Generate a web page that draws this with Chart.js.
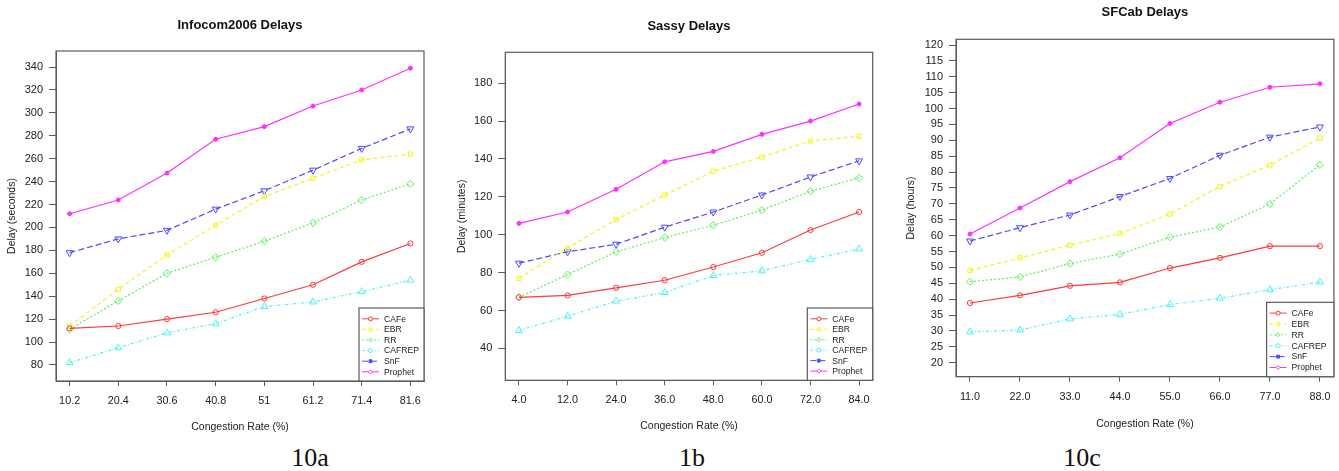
<!DOCTYPE html>
<html>
<head>
<meta charset="utf-8">
<script src="https://cdn.jsdelivr.net/npm/chart.js@4/dist/chart.umd.min.js"></script>
<style>
body{margin:0;background:#fff;width:1339px;height:471px;position:relative;overflow:hidden}
canvas{position:absolute;top:0}
.cap{position:absolute;top:445px;width:100px;text-align:center;font-family:"Liberation Serif","Times New Roman",serif;font-size:26px;line-height:26px;color:#111}
</style>
</head>
<body>
<canvas id="c1" width="440" height="440" style="left:0px"></canvas>
<canvas id="c2" width="440" height="440" style="left:450px"></canvas>
<canvas id="c3" width="439" height="440" style="left:900px"></canvas>
<div class="cap" style="left:260px">10a</div>
<div class="cap" style="left:642px">1b</div>
<div class="cap" style="left:1032px">10c</div>
<script>
// algorithms, same order in every panel
const algos = ['CAFe', 'EBR', 'RR', 'CAFREP', 'SnF', 'Prophet'];

// Infocom2006 (seconds)
const infocomRates = ['10.2', '20.4', '30.6', '40.8', '51', '61.2', '71.4', '81.6'];
const infocomCafe    = [112, 114, 120, 126, 138, 150, 170, 186];
const infocomEbr     = [114, 146, 176, 202, 227, 243, 259, 264];
const infocomRr      = [111, 136, 160, 174, 188, 204, 224, 238];
const infocomCafrep  = [82, 95, 108, 116, 131, 135, 144, 154];
const infocomSnf     = [178, 190, 197.5, 216, 232, 250, 269, 286];
const infocomProphet = [212, 224, 247.5, 277, 288, 306, 320, 339];
const infocomTicks = [80, 100, 120, 140, 160, 180, 200, 220, 240, 260, 280, 300, 320, 340];

// Sassy (minutes)
const sassyRates = ['4.0', '12.0', '24.0', '36.0', '48.0', '60.0', '72.0', '84.0'];
const sassyCafe    = [67, 68, 72, 76, 83, 90.5, 102.5, 112];
const sassyEbr     = [77, 93, 108, 121, 133.5, 141, 149.5, 152];
const sassyRr      = [67, 79, 91, 98.5, 105, 113, 123, 130];
const sassyCafrep  = [49.5, 57, 65, 69.5, 78.5, 81, 87, 92.5];
const sassySnf     = [85, 91, 95, 104, 112, 121, 130.5, 139];
const sassyProphet = [106, 112, 124, 138.5, 144, 153, 160, 169];
const sassyTicks = [40, 60, 80, 100, 120, 140, 160, 180];

// SFCab (hours)
const sfcabRates = ['11.0', '22.0', '33.0', '44.0', '55.0', '66.0', '77.0', '88.0'];
const sfcabCafe    = [38.8, 41.2, 44.2, 45.3, 49.8, 53, 56.7, 56.7];
const sfcabEbr     = [49, 53, 57, 60.7, 66.8, 75.5, 82.2, 90.7];
const sfcabRr      = [45.5, 47, 51.2, 54.2, 59.5, 62.7, 70, 82.3];
const sfcabCafrep  = [29.7, 30.3, 33.8, 35.2, 38.3, 40.3, 43, 45.4];
const sfcabSnf     = [58.3, 62.5, 66.5, 72.3, 78, 85.3, 91, 94.2];
const sfcabProphet = [60.5, 68.7, 77, 84.5, 95.3, 102, 106.7, 107.8];
const sfcabTicks = [20, 25, 30, 35, 40, 45, 50, 55, 60, 65, 70, 75, 80, 85, 90, 95, 100, 105, 110, 115, 120];

// styles
const algoColor  = ['#ff3a3a', '#f4f41c', '#5ef05e', '#52f2f2', '#4a4aff', '#ff30ff'];
const algoDash   = [[], [4, 3], [2, 2], [3, 2, 1, 2], [6, 3], []];
const algoPoint  = ['circle', 'rect', 'rectRot', 'triangle', 'triangle', 'circle'];
const algoRot    = [0, 0, 0, 0, 180, 0];
const algoRadius = [2.6, 3, 3.6, 4, 4, 2];
const algoFilled = [false, false, false, false, false, true];
const legendMark = ['circle', 'rect', 'rectRot', 'circle', 'rect', 'rectRot'];
const legendFill = [false, false, false, false, true, false];

Chart.defaults.font.family = '"Liberation Sans", Arial, sans-serif';
Chart.defaults.color = '#222';

const boxColor = '#5a5a5a';

const plotBox = {
  id: 'plotBox',
  afterDraw(chart) {
    const ctx = chart.ctx, a = chart.chartArea;
    const opt = chart.options.plugins.plotBox;
    ctx.save();
    ctx.strokeStyle = boxColor;
    ctx.lineWidth = 1.2;
    ctx.strokeRect(a.left, a.top, a.right - a.left, a.bottom - a.top);

    // legend in the bottom right corner
    const w = opt.w, h = opt.h;
    const x0 = a.right - w, y0 = a.bottom - h;
    ctx.fillStyle = '#fff';
    ctx.fillRect(x0, y0, w, h);
    ctx.strokeRect(x0, y0, w, h);
    const step = (h - 20) / 5;
    ctx.font = '8.6px "Liberation Sans", Arial, sans-serif';
    ctx.textBaseline = 'middle';
    chart.data.datasets.forEach((ds, i) => {
      const y = y0 + 10.8 + i * step;
      ctx.strokeStyle = ds.borderColor;
      ctx.lineWidth = 1;
      ctx.setLineDash(ds.borderDash);
      ctx.beginPath();
      ctx.moveTo(x0 + 3, y);
      ctx.lineTo(x0 + 20, y);
      ctx.stroke();
      ctx.setLineDash([]);
      ctx.fillStyle = legendFill[i] ? ds.borderColor : '#fff';
      Chart.helpers.drawPoint(ctx, {pointStyle: legendMark[i], radius: 2, borderWidth: 1}, x0 + 11.5, y);
      ctx.fillStyle = '#222';
      ctx.fillText(ds.label, x0 + 25, y + 0.5);
    });
    ctx.restore();
  }
};

function makeChart(p) {
  const datasets = p.series.map((vals, k) => ({
    label: algos[k],
    data: vals.map((v, i) => ({x: i, y: v})),
    borderColor: algoColor[k],
    backgroundColor: algoFilled[k] ? algoColor[k] : 'rgba(255,255,255,0)',
    borderWidth: 1.2,
    borderDash: algoDash[k],
    pointStyle: algoPoint[k],
    pointRotation: algoRot[k],
    pointRadius: algoRadius[k],
    pointBorderWidth: 1,
    pointBorderColor: algoColor[k],
    pointBackgroundColor: algoFilled[k] ? algoColor[k] : 'rgba(255,255,255,0)',
    tension: 0
  }));

  return new Chart(document.getElementById(p.id), {
    type: 'line',
    data: {datasets: datasets},
    plugins: [plotBox],
    options: {
      responsive: false,
      animation: false,
      events: [],
      layout: {padding: {left: 0, right: p.padR, top: 0, bottom: 0}},
      plugins: {
        legend: {display: false},
        tooltip: {enabled: false},
        plotBox: p.legend,
        title: {
          display: true,
          text: p.title,
          fullSize: false,
          color: '#111',
          font: {size: 13, weight: 'bold'},
          padding: p.titlePad
        }
      },
      scales: {
        x: {
          type: 'linear',
          min: -0.28,
          max: 7.28,
          afterFit: s => { s.height = p.xH; },
          afterBuildTicks: s => { s.ticks = p.rates.map((r, i) => ({value: i})); },
          ticks: {
            callback: v => p.rates[v],
            font: {size: 10.8},
            padding: p.xTickPad,
            maxRotation: 0,
            autoSkip: false
          },
          grid: {display: true, drawOnChartArea: false, drawTicks: true, tickLength: 5, color: boxColor},
          border: {display: true, color: boxColor},
          title: {display: true, text: 'Congestion Rate (%)', font: {size: 10.5}, padding: {top: 0, bottom: p.xTitlePad}}
        },
        y: {
          min: p.yMin,
          max: p.yMax,
          afterFit: s => { s.width = p.axisW; },
          afterBuildTicks: s => { s.ticks = p.yTicks.map(v => ({value: v})); },
          ticks: {font: {size: 11}, padding: 6, autoSkip: false},
          grid: {display: true, drawOnChartArea: false, drawTicks: true, tickLength: 7, color: boxColor},
          border: {display: true, color: boxColor},
          title: {display: true, text: p.yTitle, font: {size: 10.5}, padding: {top: p.yTitlePad, bottom: 0}}
        }
      }
    }
  });
}

makeChart({
  id: 'c1', title: 'Infocom2006 Delays', yTitle: 'Delay (seconds)',
  rates: infocomRates,
  series: [infocomCafe, infocomEbr, infocomRr, infocomCafrep, infocomSnf, infocomProphet],
  yTicks: infocomTicks, yMin: 66, yMax: 354,
  axisW: 56, padR: 16, titlePad: {top: 17.2, bottom: 18.2},
  xH: 59, xTickPad: 8.1, xTitlePad: 7, yTitlePad: 5.7,
  legend: {w: 65, h: 73}
});

makeChart({
  id: 'c2', title: 'Sassy Delays', yTitle: 'Delay (minutes)',
  rates: sassyRates,
  series: [sassyCafe, sassyEbr, sassyRr, sassyCafrep, sassySnf, sassyProphet],
  yTicks: sassyTicks, yMin: 23.2, yMax: 196.3,
  axisW: 55.3, padR: 17.3, titlePad: {top: 18.9, bottom: 17.8},
  xH: 59.7, xTickPad: 8.1, xTitlePad: 7.7, yTitlePad: 5.7,
  legend: {w: 65.4, h: 72.3}
});

makeChart({
  id: 'c3', title: 'SFCab Delays', yTitle: 'Delay (hours)',
  rates: sfcabRates,
  series: [sfcabCafe, sfcabEbr, sfcabRr, sfcabCafrep, sfcabSnf, sfcabProphet],
  yTicks: sfcabTicks, yMin: 15.6, yMax: 121.8,
  axisW: 56, padR: 5, titlePad: {top: 4.5, bottom: 19.2},
  xH: 63.3, xTickPad: 8.4, xTitlePad: 9.7, yTitlePad: 4.7,
  legend: {w: 67.3, h: 74.4}
});
</script>
</body>
</html>
